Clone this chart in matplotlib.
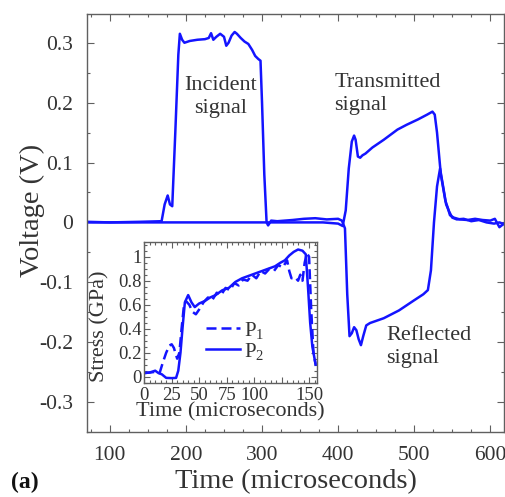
import matplotlib
matplotlib.use("Agg")
import matplotlib.pyplot as plt
from matplotlib.ticker import MultipleLocator

plt.rcParams["font.family"] = ["Liberation Serif", "DejaVu Serif"]
plt.rcParams["mathtext.fontset"] = "custom"
plt.rcParams["mathtext.rm"] = "Liberation Serif"
plt.rcParams["mathtext.it"] = "Liberation Serif"

# main plot: strain gauge signals (time in microseconds, voltage in V)
t_bar1 = [70, 100, 140, 168, 172, 176, 179, 182, 186, 190, 192, 195, 198, 205,
          215, 225, 230, 233, 236, 240, 245, 250, 253, 256, 260, 264, 267, 272,
          277, 282, 287, 291, 295, 298, 300, 303, 306, 308, 312, 320, 340, 355,
          370, 385, 400, 405, 409, 412, 415, 418, 421, 424, 427, 430, 433, 437,
          442, 460, 480, 500, 512, 518, 522, 526, 530, 534, 538, 542, 546, 550,
          556, 565, 575, 585, 595, 605, 612, 618]
v_bar1 = [0.001, 0.0, 0.001, 0.002, 0.03, 0.045, 0.03, 0.027, 0.15, 0.28,
          0.315, 0.305, 0.300, 0.303, 0.305, 0.306, 0.308, 0.316, 0.305, 0.31,
          0.315, 0.31, 0.295, 0.30, 0.312, 0.318, 0.315, 0.308, 0.302, 0.298,
          0.288, 0.278, 0.273, 0.27, 0.2, 0.08, 0.0, -0.005, 0.003, 0.002,
          0.004, 0.006, 0.007, 0.005, 0.006, 0.003, -0.01, -0.12, -0.19, -0.185,
          -0.175, -0.18, -0.195, -0.205, -0.19, -0.172, -0.168, -0.16, -0.147,
          -0.13, -0.12, -0.113, -0.08, 0.0, 0.06, 0.09, 0.06, 0.03, 0.018,
          0.008, 0.005, 0.006, 0.002, 0.004, 0.0, -0.002, 0.0, -0.003]

t_bar2 = [70, 150, 200, 250, 300, 350, 380, 400, 406, 410, 414, 418, 421, 423,
          426, 429, 432, 436, 445, 460, 478, 490, 505, 517, 524, 527, 530, 535,
          541, 544, 547, 552, 560, 570, 580, 590, 600, 606, 612, 618]
v_bar2 = [0.0, 0.0, 0.0, 0.0, 0.0, 0.0, 0.0, -0.002, -0.006, 0.02, 0.09, 0.135,
          0.145, 0.138, 0.11, 0.108, 0.112, 0.115, 0.125, 0.138, 0.155, 0.163,
          0.172, 0.18, 0.185, 0.18, 0.15, 0.08, 0.036, 0.025, 0.012, 0.008,
          0.005, 0.004, 0.006, 0.004, 0.003, 0.006, -0.008, -0.002]

# inset: stress at both ends of specimen (GPa)
t_p1 = [0, 5, 10, 14, 17, 20, 23, 25, 27, 30, 32, 34, 36, 38, 41, 44, 47, 50,
        54, 58, 62, 66, 70, 74, 78, 82, 86, 90, 94, 98, 102, 106, 110, 114, 118,
        122, 126, 130, 132, 134, 137, 140, 142, 144, 146, 148, 150, 152, 154, 156]
s_p1 = [0.03, 0.035, 0.04, 0.03, 0.12, 0.2, 0.26, 0.27, 0.24, 0.15, 0.2, 0.4,
        0.58, 0.63, 0.6, 0.54, 0.52, 0.56, 0.62, 0.66, 0.64, 0.70, 0.68, 0.74,
        0.72, 0.78, 0.76, 0.81, 0.80, 0.85, 0.82, 0.88, 0.86, 0.90, 0.88, 0.93,
        0.91, 0.97, 0.88, 0.82, 0.83, 0.80, 0.85, 0.80, 0.95, 1.03, 1.0, 0.55,
        0.2, 0.1]
t_p2 = [0, 5, 10, 13, 16, 20, 25, 29, 31, 33, 35, 37, 40, 43, 46, 50, 55, 60,
        65, 71, 77, 83, 89, 95, 101, 107, 113, 119, 124, 128, 132, 136, 140,
        144, 147, 149, 151, 153, 155, 156]
s_p2 = [0.03, 0.035, 0.05, 0.03, 0.02, -0.01, -0.012, -0.01, 0.05, 0.2, 0.42,
        0.62, 0.68, 0.62, 0.58, 0.61, 0.63, 0.66, 0.68, 0.72, 0.74, 0.79, 0.82,
        0.84, 0.86, 0.88, 0.90, 0.92, 0.95, 0.97, 1.01, 1.04, 1.06, 1.05, 1.02,
        0.75, 0.45, 0.25, 0.15, 0.1]

blue = "#1414ff"
grey = "#606060"
textc = "#333333"


def style(ax, fs, major, minor):
    for side in ["left", "top", "right", "bottom"]:
        ax.spines[side].set_color(grey)
        ax.spines[side].set_linewidth(1.0)
    ax.tick_params(which="both", direction="in", top=True, right=True,
                   colors=grey, labelcolor=textc, labelsize=fs, width=0.8)
    ax.tick_params(which="major", length=major)
    ax.tick_params(which="minor", length=minor)


fig = plt.figure(figsize=(5.06, 4.97), dpi=100)
ax = fig.add_axes([0.172, 0.1308, 0.824, 0.841])
ax.plot(t_bar1, v_bar1, color=blue, lw=1.8)
ax.plot(t_bar2, v_bar2, color=blue, lw=1.8)
ax.set_xlim(70, 618)
ax.set_ylim(-0.35, 0.348)
ax.set_xticks([100, 200, 300, 400, 500, 600])
ax.set_yticks([-0.3, -0.2, -0.1, 0, 0.1, 0.2, 0.3])
ax.set_yticklabels(["-0.3", "-0.2", "-0.1", "0", "0.1", "0.2", "0.3"])
ax.xaxis.set_minor_locator(MultipleLocator(25))
ax.yaxis.set_minor_locator(MultipleLocator(0.05))
style(ax, 15.5, 5, 2.5)
ax.tick_params(axis="x", pad=10)
ax.tick_params(axis="y", pad=10)
ax.set_xlabel("Time (microseconds)", fontsize=20.5, color=textc, labelpad=3)
ax.set_ylabel("Voltage (V)", fontsize=20.5, color=textc)
ax.yaxis.set_label_coords(-0.1, 0.53)

ax.text(245, 0.209, "Incident\nsignal", fontsize=16, color=textc,
        ha="center", va="center", linespacing=1.3)
ax.text(395, 0.214, "Transmitted\nsignal", fontsize=16, color=textc,
        ha="left", va="center", linespacing=1.3)
ax.text(463, -0.2075, "Reflected\nsignal", fontsize=16, color=textc,
        ha="left", va="center", linespacing=1.3)
fig.text(0.022, 0.018, "(a)", fontsize=17, fontweight="bold", color="#111111")

ins = fig.add_axes([0.285, 0.230, 0.341, 0.2837])
ins.plot(t_p1, s_p1, color=blue, lw=1.8, ls=(0, (4, 2)), label="P$_1$")
ins.plot(t_p2, s_p2, color=blue, lw=1.8, label="P$_2$")
ins.set_xlim(0, 157)
ins.set_ylim(-0.05, 1.125)
ins.set_xticks([0, 25, 50, 75, 100, 125, 150])
ins.set_xticklabels(["0", "25", "50", "75", "100", "", "150"])
ins.set_yticks([0, 0.2, 0.4, 0.6, 0.8, 1.0])
ins.set_yticklabels(["0", "0.2", "0.4", "0.6", "0.8", "1"])
ins.xaxis.set_minor_locator(MultipleLocator(5))
ins.yaxis.set_minor_locator(MultipleLocator(0.05))
style(ins, 13.5, 4, 2)
ins.tick_params(axis="x", pad=3)
ins.tick_params(axis="y", pad=2)
ins.set_xlabel("Time (microseconds)", fontsize=16, color=textc, labelpad=-1)
ins.set_ylabel("Stress (GPa)", fontsize=16, color=textc)
ins.yaxis.set_label_coords(-0.2, 0.4)
ins.legend(loc="lower left", bbox_to_anchor=(0.3, 0.075), frameon=False,
           fontsize=15, handlelength=1.6, handletextpad=0.2, labelspacing=0.0,
           borderpad=0, labelcolor=textc)

fig.savefig("out.png", dpi=100)
